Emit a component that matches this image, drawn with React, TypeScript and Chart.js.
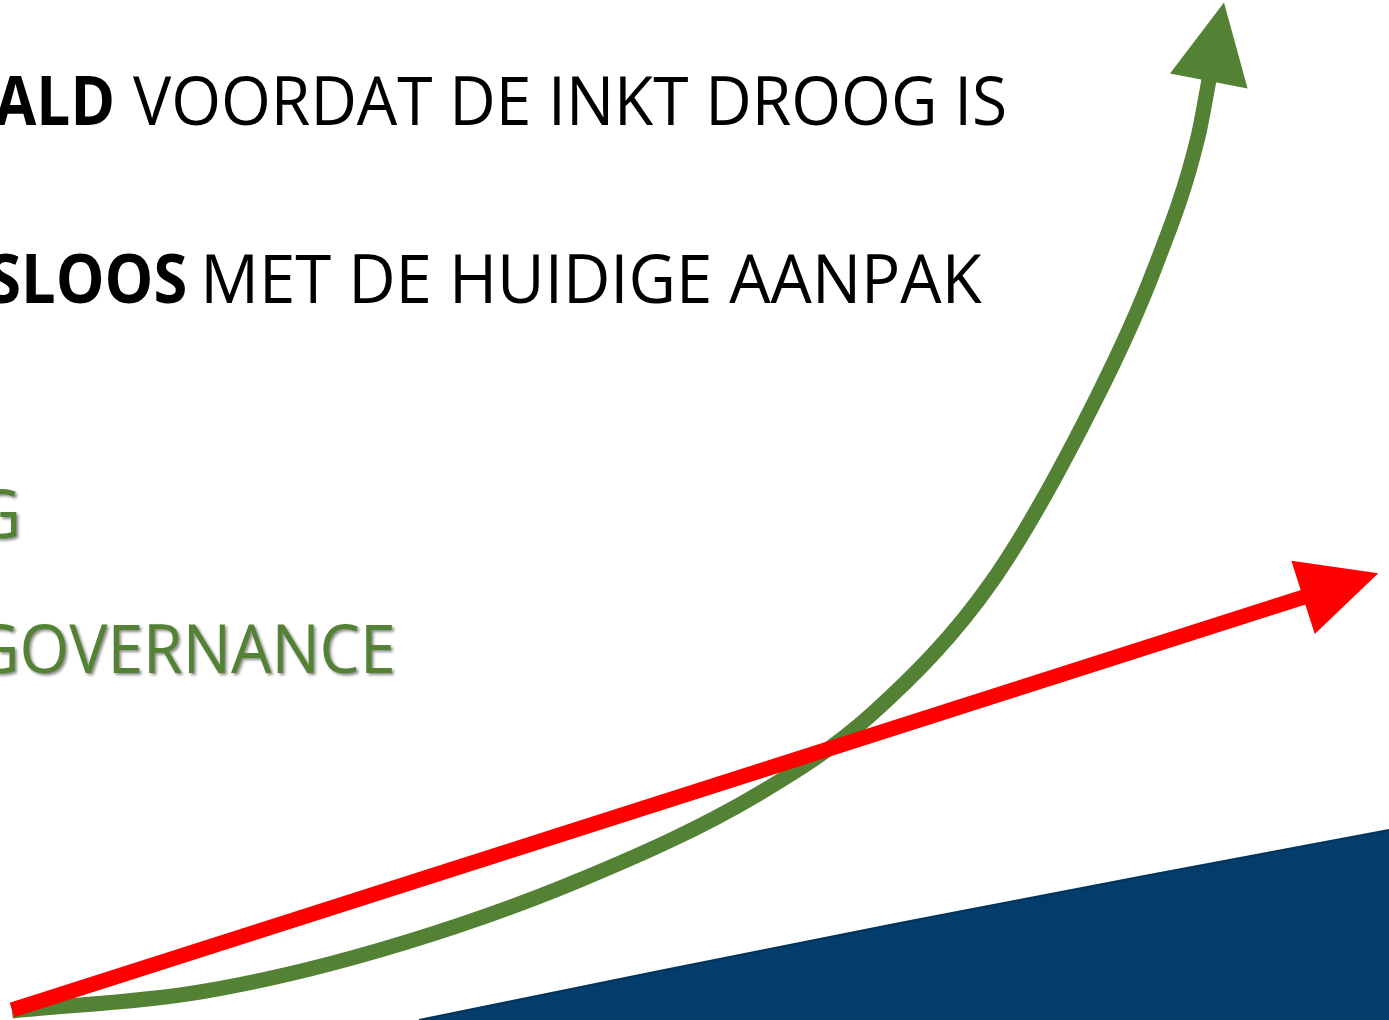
import React, { useEffect, useRef } from "react";
import { Chart, registerables } from "chart.js";

Chart.register(...registerables);

// ---- Data (x from the left edge, y = height above the bottom edge) ----
const greenX = [12, 200, 380, 580, 760, 873, 993, 1097, 1154, 1198, 1209];
const greenY = [9, 28, 70, 140, 227, 307, 440, 623, 750, 883, 940];

const redX = [12, 1304];
const redY = [10, 423];

const blueX = [419, 900, 1389];
const blueY = [0, 97, 190];

// ---- Text ----
const boldParts = ["ALD", "SLOOS"];
const restParts = ["VOORDAT DE INKT DROOG IS", "MET DE HUIDIGE AANPAK"];
const greenTexts = ["G", "GOVERNANCE"];

const GREEN = "#548235";
const RED = "#ff0000";
const NAVY = "#023d6b";
const FONT_FAMILY = '"Open Sans", "Noto Sans", sans-serif';
const FONT_SIZE = 68;

const toPoints = (xs: number[], ys: number[]) => xs.map((x, i) => ({ x, y: ys[i] }));

function inkMetrics(ctx: CanvasRenderingContext2D, text: string) {
  const m = ctx.measureText(text);
  return { left: m.actualBoundingBoxLeft, right: m.actualBoundingBoxRight };
}

const textPlugin = {
  id: "slideText",
  beforeDatasetsDraw(chart: any) {
    const ctx: CanvasRenderingContext2D = chart.ctx;
    ctx.save();
    ctx.textBaseline = "alphabetic";
    ctx.textAlign = "left";

    const rows = [
      { baseline: 125, boldRight: 112, restLeft: 133, restRight: 1005 },
      { baseline: 303, boldRight: 185, restLeft: 206, restRight: 982 },
    ];
    let firstScale = 1;
    rows.forEach((r, i) => {
      ctx.font = `400 ${FONT_SIZE}px ${FONT_FAMILY}`;
      const mr = inkMetrics(ctx, restParts[i]);
      const s = (r.restRight - r.restLeft) / (mr.right + mr.left);
      if (i === 0) firstScale = s;
      ctx.fillStyle = "#000000";
      ctx.save();
      ctx.translate(r.restLeft + mr.left * s, r.baseline);
      ctx.scale(s, 1);
      ctx.fillText(restParts[i], 0, 0);
      ctx.restore();

      ctx.font = `700 ${FONT_SIZE}px ${FONT_FAMILY}`;
      const mb = inkMetrics(ctx, boldParts[i]);
      const sb = s * 0.94;
      ctx.save();
      ctx.translate(r.boldRight - mb.right * sb, r.baseline);
      ctx.scale(sb, 1);
      ctx.fillText(boldParts[i], 0, 0);
      ctx.restore();
    });

    const greenRows = [
      { baseline: 538, right: 17 },
      { baseline: 673, right: 392 },
    ];
    ctx.font = `400 ${FONT_SIZE}px ${FONT_FAMILY}`;
    ctx.fillStyle = GREEN;
    greenRows.forEach((r, i) => {
      const m = inkMetrics(ctx, greenTexts[i]);
      ctx.save();
      ctx.shadowColor = "rgba(0,0,0,0.45)";
      ctx.shadowOffsetX = 2;
      ctx.shadowOffsetY = 2;
      ctx.shadowBlur = 3;
      ctx.translate(r.right - m.right * firstScale, r.baseline);
      ctx.scale(firstScale, 1);
      ctx.fillText(greenTexts[i], 0, 0);
      ctx.restore();
    });
    ctx.restore();
  },
};

const arrowPlugin = {
  id: "arrowHeads",
  afterDatasetsDraw(chart: any) {
    const ctx: CanvasRenderingContext2D = chart.ctx;
    chart.data.datasets.forEach((ds: any, i: number) => {
      if (!ds.arrowHead) return;
      const meta = chart.getDatasetMeta(i);
      const pts = meta.data;
      const n = pts.length;
      if (n < 2) return;
      const last = pts[n - 1];
      let px = pts[n - 2].x;
      let py = pts[n - 2].y;
      if (last.cp1x !== undefined && Math.hypot(last.x - last.cp1x, last.y - last.cp1y) > 1) {
        px = last.cp1x;
        py = last.cp1y;
      }
      const dx = last.x - px;
      const dy = last.y - py;
      const len = Math.hypot(dx, dy);
      const ux = dx / len;
      const uy = dy / len;
      const nx = -uy;
      const ny = ux;
      const L = ds.arrowHead.length;
      const W = ds.arrowHead.width / 2;
      const bx = last.x - ux * 1;
      const by = last.y - uy * 1;
      ctx.save();
      ctx.fillStyle = ds.borderColor;
      ctx.beginPath();
      ctx.moveTo(last.x + ux * L, last.y + uy * L);
      ctx.lineTo(bx + nx * W, by + ny * W);
      ctx.lineTo(bx - nx * W, by - ny * W);
      ctx.closePath();
      ctx.fill();
      ctx.restore();
    });
  },
};

export default function App() {
  const canvasRef = useRef<HTMLCanvasElement | null>(null);

  useEffect(() => {
    if (!canvasRef.current) return;
    const chart = new Chart(canvasRef.current, {
      type: "line",
      data: {
        datasets: [
          {
            label: "blue",
            data: toPoints(blueX, blueY),
            borderColor: "#01345c",
            borderWidth: 2,
            backgroundColor: NAVY,
            fill: "origin",
            tension: 0.4,
            pointRadius: 0,
            order: 3,
          },
          {
            label: "green",
            data: toPoints(greenX, greenY),
            borderColor: GREEN,
            borderWidth: 15,
            borderCapStyle: "butt",
            fill: false,
            cubicInterpolationMode: "monotone",
            pointRadius: 0,
            order: 2,
            arrowHead: { length: 79, width: 79 },
          } as any,
          {
            label: "red",
            data: toPoints(redX, redY),
            borderColor: RED,
            borderWidth: 15,
            borderCapStyle: "butt",
            fill: false,
            tension: 0,
            pointRadius: 0,
            order: 1,
            arrowHead: { length: 78, width: 77 },
          } as any,
        ],
      },
      options: {
        animation: false,
        responsive: false,
        maintainAspectRatio: false,
        events: [],
        layout: { padding: 0 },
        plugins: {
          legend: { display: false },
          tooltip: { enabled: false },
          title: { display: false },
        },
        scales: {
          x: { type: "linear", min: 0, max: 1389, display: false },
          y: { type: "linear", min: 0, max: 1020, display: false },
        },
      },
      plugins: [textPlugin, arrowPlugin],
    });
    return () => chart.destroy();
  }, []);

  return (
    <div style={{ position: "absolute", left: 0, top: 0, width: 1389, height: 1020, background: "#ffffff" }}>
      <canvas ref={canvasRef} width={1389} height={1020} style={{ display: "block" }} />
    </div>
  );
}
